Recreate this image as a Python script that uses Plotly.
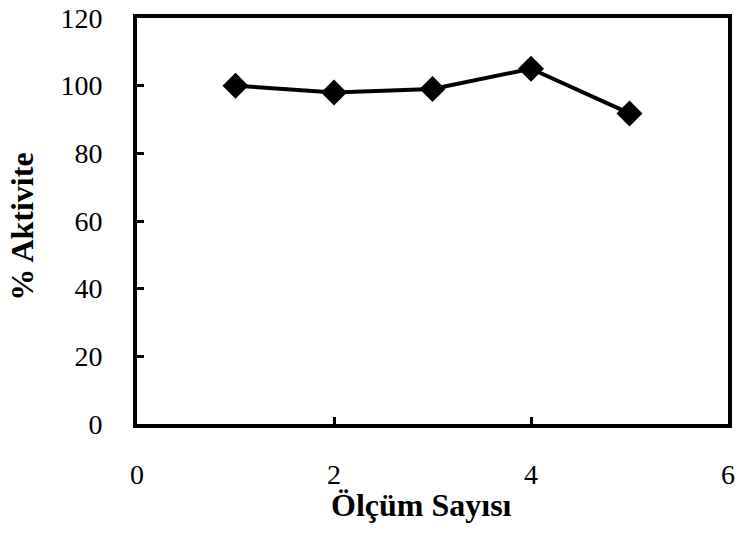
import plotly.graph_objects as go

# Measurement number vs. retained activity (%)
olcum = [1, 2, 3, 4, 5]
aktivite = [100, 98, 99, 105, 91.8]

x_ticks = [0, 2, 4, 6]
y_ticks = [0, 20, 40, 60, 80, 100, 120]

x_title = "Ölçüm Sayısı"
y_title = "% Aktivite"

FONT = "Liberation Serif"

fig = go.Figure(
    go.Scatter(
        x=olcum,
        y=aktivite,
        mode="lines+markers",
        line=dict(color="black", width=4),
        marker=dict(symbol="diamond", size=20, color="black"),
        showlegend=False,
    )
)

axis_common = dict(
    showline=True,
    linecolor="black",
    linewidth=4,
    mirror=True,
    ticks="inside",
    ticklen=7,
    tickwidth=3,
    tickcolor="black",
    showgrid=False,
    zeroline=False,
    automargin=False,
    tickfont=dict(family=FONT, size=28, color="black"),
)

fig.update_xaxes(
    range=[0, 6],
    tickvals=x_ticks,
    ticktext=[str(v) for v in x_ticks],
    ticklabelstandoff=22,
    **axis_common,
)
fig.update_yaxes(
    range=[0, 120],
    tickvals=y_ticks,
    ticktext=[str(v) for v in y_ticks],
    ticklabelstandoff=25,
    **axis_common,
)

# Axis titles placed as paper-anchored annotations
title_font = dict(family=FONT, size=32, color="black")
fig.add_annotation(
    text=f"<b>{x_title}</b>", xref="paper", yref="paper",
    x=0.482, y=-0.2, xanchor="center", yanchor="middle",
    showarrow=False, font=title_font,
)
fig.add_annotation(
    text=f"<b>{y_title}</b>", xref="paper", yref="paper",
    x=-0.195, y=0.485, xanchor="center", yanchor="middle",
    textangle=-90, showarrow=False, font=title_font,
)

fig.update_layout(
    width=737,
    height=533,
    margin=dict(l=137, r=9, t=18, b=109),
    plot_bgcolor="white",
    paper_bgcolor="white",
)

fig.write_html("out.html")
